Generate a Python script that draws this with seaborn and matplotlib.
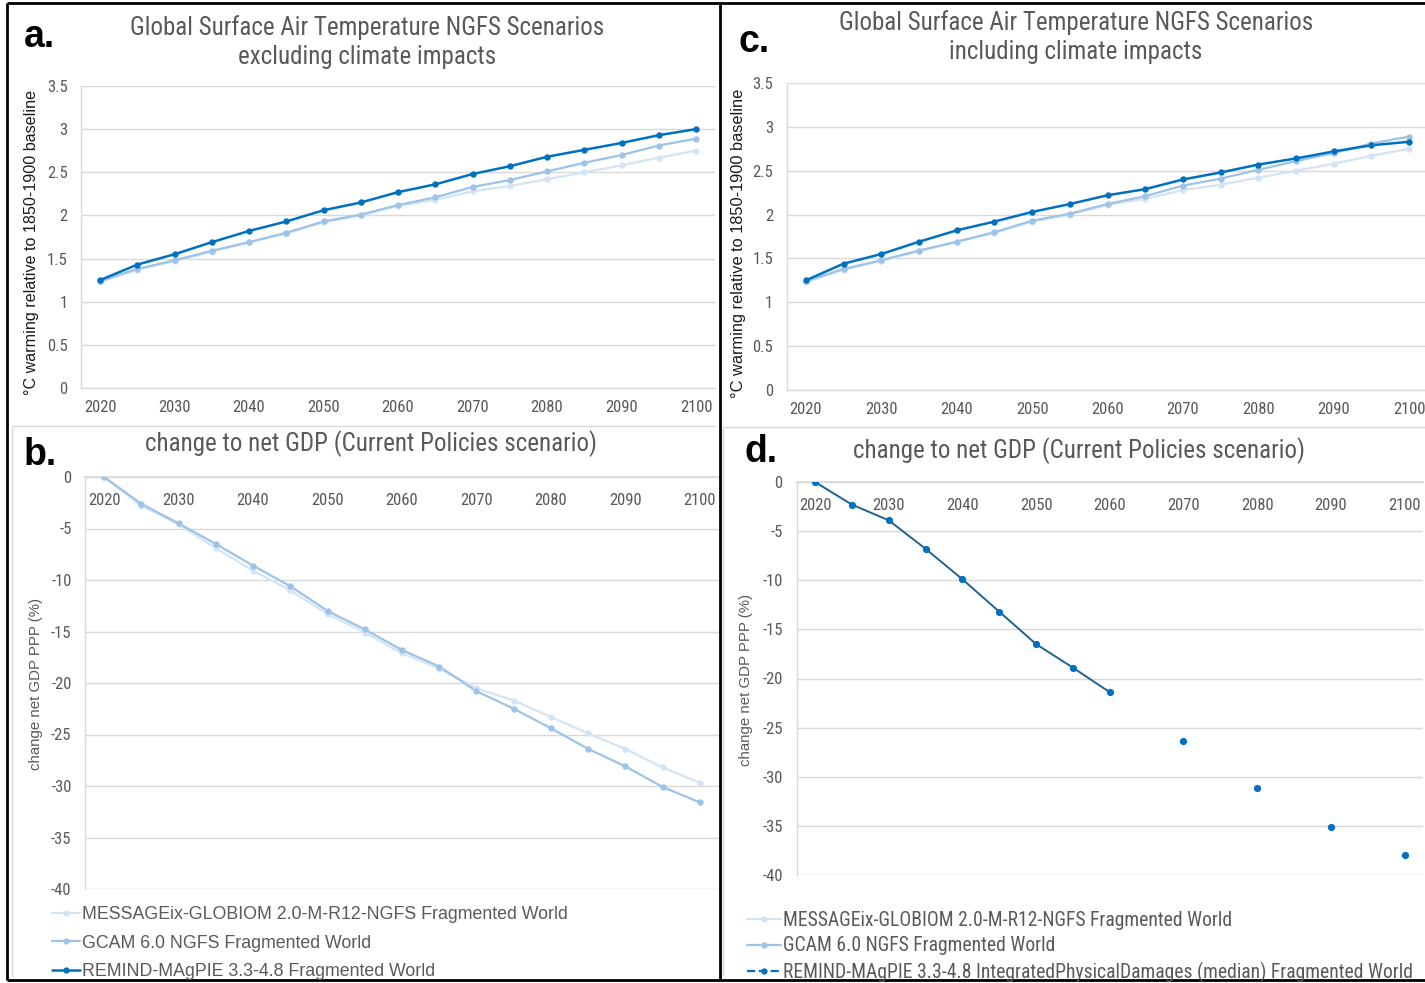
import numpy as np
import pandas as pd
import matplotlib
matplotlib.use("Agg")
import matplotlib.pyplot as plt
from matplotlib import font_manager
from matplotlib.lines import Line2D
import seaborn as sns

W, H = 1425, 983

years = [2020, 2025, 2030, 2035, 2040, 2045, 2050, 2055, 2060,
         2065, 2070, 2075, 2080, 2085, 2090, 2095, 2100]
tick_years = [2020, 2030, 2040, 2050, 2060, 2070, 2080, 2090, 2100]

names = ["MESSAGEix-GLOBIOM 2.0-M-R12-NGFS Fragmented World",
         "GCAM 6.0 NGFS Fragmented World",
         "REMIND-MAgPIE 3.3-4.8 Fragmented World"]
name_remind_dmg = "REMIND-MAgPIE 3.3-4.8 IntegratedPhysicalDamages (median) Fragmented World"

# temperature, excluding climate impacts (a) / including (c)
temp_message = [1.23, 1.37, 1.47, 1.58, 1.69, 1.79, 1.92, 2.00, 2.11,
                2.18, 2.28, 2.34, 2.42, 2.50, 2.58, 2.67, 2.75]
temp_gcam = [1.24, 1.38, 1.48, 1.59, 1.69, 1.80, 1.93, 2.01, 2.12,
             2.21, 2.33, 2.41, 2.51, 2.61, 2.70, 2.81, 2.89]
temp_remind = [1.25, 1.43, 1.55, 1.69, 1.82, 1.93, 2.06, 2.15, 2.27,
               2.36, 2.48, 2.57, 2.68, 2.76, 2.84, 2.93, 3.00]
temp_remind_dmg = [1.25, 1.44, 1.55, 1.69, 1.82, 1.92, 2.03, 2.12, 2.22,
                   2.29, 2.40, 2.48, 2.57, 2.64, 2.72, 2.79, 2.83]

# change to net GDP (%)
gdp_message = [0.0, -2.8, -4.6, -6.9, -9.1, -11.0, -13.3, -15.1, -17.1,
               -18.6, -20.5, -21.7, -23.3, -24.9, -26.4, -28.2, -29.7]
gdp_gcam = [0.0, -2.6, -4.5, -6.5, -8.6, -10.6, -13.0, -14.8, -16.8,
            -18.4, -20.8, -22.5, -24.4, -26.4, -28.1, -30.1, -31.6]
gdp_remind_dmg = [0.0, -2.3, -3.9, -6.8, -9.9, -13.2, -16.5, -18.9, -21.4,
                  np.nan, -26.4, np.nan, -31.1, np.nan, -35.1, np.nan, -38.0]

c_message = "#D3E4F5"
c_gcam = "#9DC3E6"
c_remind = "#0070C0"
c_remind_line = "#1F6392"
grey_txt = "#595959"
grid_c = "#D9D9D9"


def pick(*fams):
    have = {f.name for f in font_manager.fontManager.ttflist}
    for f in fams:
        if f in have:
            return f
    return "DejaVu Sans"


narrow = pick("Liberation Sans Narrow", "Roboto Condensed", "Liberation Sans")
sans = pick("Liberation Sans", "Arial", "DejaVu Sans")

sns.set_theme(style="white")
plt.rcParams["font.family"] = [sans, "DejaVu Sans"]


def fx(px):
    return px / W


def fy(py):
    return 1 - py / H


def add_axes(fig, left, right, top, bottom):
    return fig.add_axes([fx(left), fy(bottom), (right - left) / W, (bottom - top) / H])


def style_axes(ax, ylim, yticks, ylabels, top_axis=False):
    ax.set_xlim(2017.5, 2102.5)
    ax.set_ylim(*ylim)
    ax.set_yticks(yticks)
    ax.set_yticklabels(ylabels)
    ax.set_xticks(tick_years)
    ax.set_xticklabels([str(y) for y in tick_years])
    ax.grid(axis="y", color=grid_c, linewidth=1.0)
    ax.grid(axis="x", visible=False)
    for s in ["top", "right"]:
        ax.spines[s].set_visible(False)
    for s in ["left", "bottom"]:
        ax.spines[s].set_color(grid_c)
        ax.spines[s].set_linewidth(1.0)
    ax.tick_params(length=0, labelsize=12, labelcolor=grey_txt)
    for lab in ax.get_xticklabels() + ax.get_yticklabels():
        lab.set_fontfamily(narrow)
    if top_axis:
        ax.spines["bottom"].set_visible(False)
        ax.spines["top"].set_visible(True)
        ax.spines["top"].set_color(grid_c)
        ax.xaxis.tick_top()
        ax.tick_params(axis="x", pad=-22)
        for lab in ax.get_xticklabels():
            lab.set_fontfamily(narrow)
    else:
        ax.tick_params(axis="x", pad=9)
    ax.tick_params(axis="y", pad=10)
    ax.set_xlabel("")


def draw(ax, vals, color, lw=1.6, ms=4.6, line_color=None):
    df = pd.DataFrame({"year": years, "val": vals})
    seg = df["val"].isna().cumsum()
    for _, part in df.dropna().groupby(seg[df["val"].notna()]):
        if len(part) > 1:
            sns.lineplot(data=part, x="year", y="val", ax=ax,
                         color=line_color or color, linewidth=lw)
    sns.scatterplot(data=df.dropna(), x="year", y="val", ax=ax, color=color,
                    s=ms ** 2, linewidth=0, zorder=3)


fig = plt.figure(figsize=(W / 100, H / 100), dpi=100)

temp_ticks = [0, 0.5, 1, 1.5, 2, 2.5, 3, 3.5]
temp_labels = ["0", "0.5", "1", "1.5", "2", "2.5", "3", "3.5"]
gdp_ticks = [0, -5, -10, -15, -20, -25, -30, -35, -40]
gdp_labels = [str(t) for t in gdp_ticks]

# panel a
ax_a = add_axes(fig, 81.4, 714.7, 86, 388)
draw(ax_a, temp_message, c_message)
draw(ax_a, temp_gcam, c_gcam)
draw(ax_a, temp_remind, c_remind, lw=1.8)
style_axes(ax_a, (0, 3.5), temp_ticks, temp_labels)

# panel c
ax_c = add_axes(fig, 787, 1428, 83, 390)
draw(ax_c, temp_message, c_message)
draw(ax_c, temp_gcam, c_gcam)
draw(ax_c, temp_remind_dmg, c_remind, lw=1.8)
style_axes(ax_c, (0, 3.5), temp_ticks, temp_labels)

# panel b
ax_b = add_axes(fig, 85.4, 718.6, 477, 889)
draw(ax_b, gdp_message, c_message)
draw(ax_b, gdp_gcam, c_gcam)
style_axes(ax_b, (-40, 0), gdp_ticks, gdp_labels, top_axis=True)

# panel d
ax_d = add_axes(fig, 796.6, 1423, 482, 875)
draw(ax_d, gdp_remind_dmg, c_remind, lw=1.4, ms=5.2, line_color=c_remind_line)
style_axes(ax_d, (-40, 0), gdp_ticks, gdp_labels, top_axis=True)

# axis titles
for ax, xpx, ypos, lab, size, col in [
        (ax_a, 32, 0.482, "\u00b0C warming relative to 1850-1900 baseline", 11.6, "#1A1A1A"),
        (ax_c, 739, 0.477, "\u00b0C warming relative to 1850-1900 baseline", 11.8, "#1A1A1A"),
        (ax_b, 36, 0.498, "change net GDP PPP (%)", 10.8, grey_txt),
        (ax_d, 746, 0.496, "change net GDP PPP (%)", 10.8, grey_txt)]:
    ax.set_ylabel(lab, fontsize=size, color=col)
    bb = ax.get_position()
    ax.yaxis.set_label_coords((fx(xpx) - bb.x0) / bb.width, ypos)
    ax.yaxis.label.set_va("center")

# chart titles
title_kw = dict(ha="center", va="center", color=grey_txt, fontsize=18, family=narrow)
fig.text(fx(367), fy(28), "Global Surface Air Temperature NGFS Scenarios", **title_kw)
fig.text(fx(367), fy(57), "excluding climate impacts", **title_kw)
fig.text(fx(1076), fy(23), "Global Surface Air Temperature NGFS Scenarios", **title_kw)
fig.text(fx(1076), fy(52), "including climate impacts", **title_kw)
fig.text(fx(371), fy(444), "change to net GDP (Current Policies scenario)", **title_kw)
fig.text(fx(1079), fy(451), "change to net GDP (Current Policies scenario)", **title_kw)

# panel letters
letter_kw = dict(ha="left", va="center", fontsize=27, fontweight="bold", color="black")
fig.text(fx(24), fy(37), "a.", **letter_kw)
fig.text(fx(24), fy(455), "b.", **letter_kw)
fig.text(fx(738), fy(42), "c.", **letter_kw)
fig.text(fx(745), fy(452), "d.", **letter_kw)

# legends
mk = dict(marker="o", markersize=4.5, markeredgewidth=0)
h_left = [Line2D([], [], color=c_message, linewidth=1.6, **mk),
          Line2D([], [], color=c_gcam, linewidth=1.6, **mk),
          Line2D([], [], color=c_remind, linewidth=1.8, **mk)]
fig.legend(h_left, names, loc="center left",
           bbox_to_anchor=(fx(52), fy(943)), frameon=False, borderpad=0,
           borderaxespad=0, handlelength=1.57, handletextpad=0.12,
           labelspacing=0.64, prop={"family": sans, "size": 12.8},
           labelcolor=grey_txt)

h_right = [Line2D([], [], color=c_message, linewidth=1.6, **mk),
           Line2D([], [], color=c_gcam, linewidth=1.6, **mk),
           Line2D([], [], color=c_remind, linewidth=1.6, linestyle="--", **mk)]
fig.legend(h_right, [names[0], names[1], name_remind_dmg], loc="center left",
           bbox_to_anchor=(fx(747), fy(947)), frameon=False, borderpad=0,
           borderaxespad=0, handlelength=1.76, handletextpad=0.1,
           labelspacing=0.33, prop={"family": narrow, "size": 14.1},
           labelcolor=grey_txt)


# panel frames
def fline(x0, y0, x1, y1, color, lw):
    fig.add_artist(Line2D([fx(x0), fx(x1)], [fy(y0), fy(y1)], color=color,
                          linewidth=lw, solid_capstyle="butt"))


fline(12, 426, 716, 426, grid_c, 1.0)
fline(12, 426, 12, 976, grid_c, 1.0)
fline(723, 427, 1425, 427, grid_c, 1.0)
fline(723, 427, 723, 976, grid_c, 1.0)
fline(7, 3, 1425, 3, "black", 2.0)
fline(7, 3, 7, 980, "black", 2.0)
fline(7, 980, 1425, 980, "black", 2.0)
fline(720, 3, 720, 980, "black", 2.0)

fig.savefig("out.png", dpi=100)
